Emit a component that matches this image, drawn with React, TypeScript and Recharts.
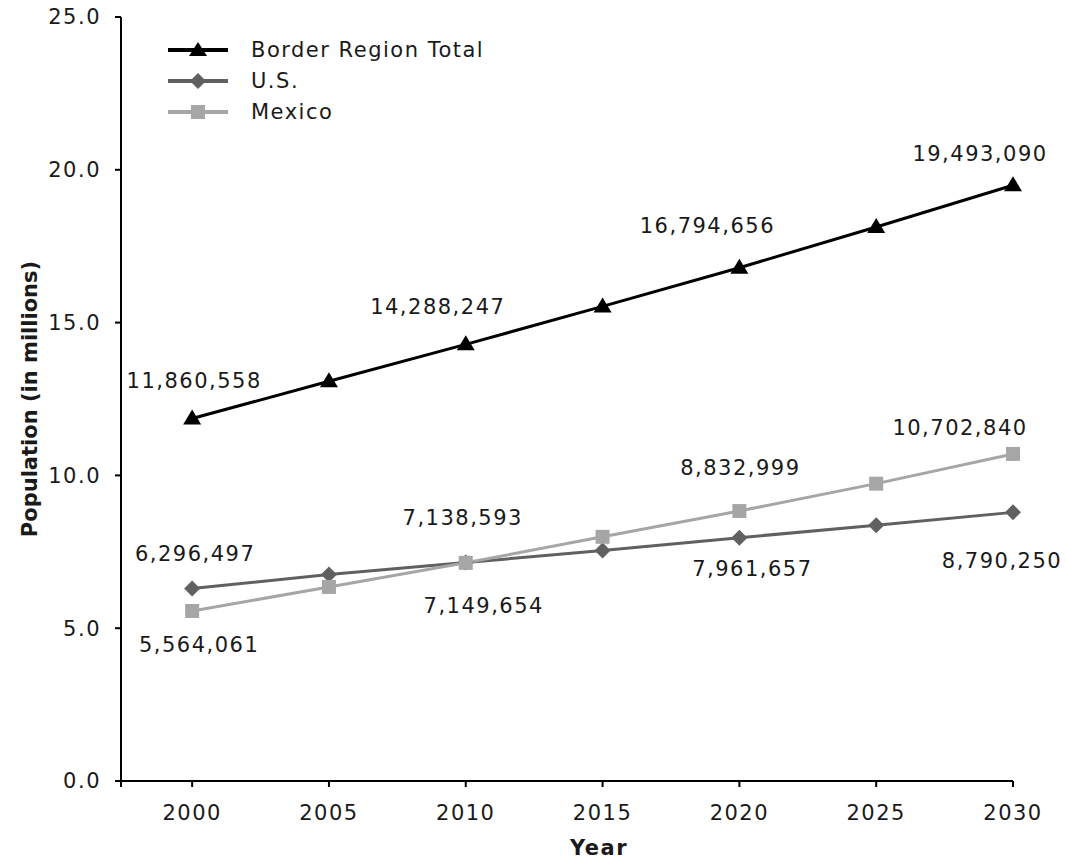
import { LineChart, Line, XAxis, YAxis, Legend, LabelList } from 'recharts';

const years = [2000, 2005, 2010, 2015, 2020, 2025, 2030];
// population in millions
const borderTotal = [11.860558, 13.08, 14.288247, 15.53, 16.794656, 18.13, 19.49309];
const usPop = [6.296497, 6.76, 7.149654, 7.54, 7.961657, 8.37, 8.79025];
const mexicoPop = [5.564061, 6.35, 7.138593, 7.99, 8.832999, 9.73, 10.70284];
const yTicks = [0, 5, 10, 15, 20, 25];
const xStart = 1997.4;

const data = years.map((year, i) => ({
  year,
  border: borderTotal[i],
  us: usPop[i],
  mexico: mexicoPop[i],
}));

const FONT = '"DejaVu Sans", Verdana, sans-serif';
const TEXT = '#1a1a1a';

// label offsets from the point, only labelled every other year
const borderOffsets = [[2, -38], null, [-28, -37], null, [-32, -42], null, [-33, -31]];
const usOffsets = [[3, -35], null, [18, 43], null, [13, 31], null, [-11, 49]];
const mexicoOffsets = [[7, 34], null, [-3, -45], null, [1, -43], null, [-53, -26]];

const fmt = (v: number) => Math.round(v * 1e6).toLocaleString('en-US');

const makeLabel = (offsets: (number[] | null)[]) => (props: any) => {
  const { x, y, value, index } = props;
  const off = offsets[index];
  if (!off) return null;
  return (
    <text
      x={x + off[0]}
      y={y + off[1]}
      textAnchor="middle"
      dominantBaseline="central"
      fill={TEXT}
      fontSize={21}
      fontFamily={FONT}
      letterSpacing={1.5}
    >
      {fmt(value)}
    </text>
  );
};

const triangle = (props: any) => {
  const { cx, cy, index } = props;
  return <polygon key={index} points={`${cx},${cy - 9} ${cx + 9},${cy + 6} ${cx - 9},${cy + 6}`} fill="#000" />;
};
const diamond = (props: any) => {
  const { cx, cy, index } = props;
  return <polygon key={index} points={`${cx},${cy - 8} ${cx + 8},${cy} ${cx},${cy + 8} ${cx - 8},${cy}`} fill="#606060" />;
};
const square = (props: any) => {
  const { cx, cy, index } = props;
  return <rect key={index} x={cx - 7} y={cy - 7} width={14} height={14} fill="#a6a6a6" />;
};

const legendItems = [
  { name: 'Border Region Total', color: '#000', shape: 'triangle' },
  { name: 'U.S.', color: '#606060', shape: 'diamond' },
  { name: 'Mexico', color: '#a6a6a6', shape: 'square' },
];

const renderLegend = () => (
  <div style={{ fontFamily: FONT, fontSize: 21, color: TEXT, letterSpacing: 1.5 }}>
    {legendItems.map((it) => (
      <div key={it.name} style={{ display: 'flex', alignItems: 'center', height: 31 }}>
        <svg width={62} height={20} style={{ marginRight: 22 }}>
          <line x1={1} y1={10} x2={61} y2={10} stroke={it.color} strokeWidth={4} />
          {it.shape === 'triangle' && <polygon points="31,2 40,16 22,16" fill={it.color} />}
          {it.shape === 'diamond' && <polygon points="31,2 39,10 31,18 23,10" fill={it.color} />}
          {it.shape === 'square' && <rect x={24} y={3} width={14} height={14} fill={it.color} />}
        </svg>
        <span>{it.name}</span>
      </div>
    ))}
  </div>
);

const tickStyle = { fill: TEXT, fontSize: 21, fontFamily: FONT, letterSpacing: 1.5 };

export default function App() {
  return (
    <div style={{ width: 1066, height: 859, background: '#fff', position: 'relative' }}>
      <style>{'body{margin:0}'}</style>
      <LineChart width={1066} height={859} data={data} margin={{ top: 17, right: 53, bottom: 0, left: 0 }}>
        <XAxis
          dataKey="year"
          type="number"
          domain={[xStart, 2030]}
          ticks={[xStart, ...years]}
          tickFormatter={(v) => (years.includes(v) ? String(v) : '')}
          height={78}
          stroke="#000"
          strokeWidth={2}
          tickLine={{ stroke: '#000', strokeWidth: 2 }}
          tickSize={6}
          tickMargin={18}
          tick={tickStyle}
          label={() => (
            <text x={599} y={848} textAnchor="middle" dominantBaseline="central" fontWeight="bold" fontSize={21} fontFamily={FONT} fill={TEXT} letterSpacing={1.5}>
              Year
            </text>
          )}
        />
        <YAxis
          type="number"
          domain={[0, 25]}
          ticks={yTicks}
          tickFormatter={(v) => v.toFixed(1)}
          width={121}
          stroke="#000"
          strokeWidth={2}
          tickLine={{ stroke: '#000', strokeWidth: 2 }}
          tickSize={6}
          tickMargin={14}
          tick={tickStyle}
          label={() => (
            <text
              x={30}
              y={399}
              transform="rotate(-90, 30, 399)"
              textAnchor="middle"
              dominantBaseline="central"
              fontWeight="bold"
              fontSize={21}
              fontFamily={FONT}
              fill={TEXT}
            >
              Population (in millions)
            </text>
          )}
        />
        <Legend
          layout="vertical"
          align="center"
          verticalAlign="middle"
          content={renderLegend}
          wrapperStyle={{ top: 34, left: 167, width: 'auto' }}
        />
        <Line dataKey="border" stroke="#000" strokeWidth={3} dot={triangle} isAnimationActive={false}>
          <LabelList dataKey="border" content={makeLabel(borderOffsets)} />
        </Line>
        <Line dataKey="us" stroke="#606060" strokeWidth={3} dot={diamond} isAnimationActive={false}>
          <LabelList dataKey="us" content={makeLabel(usOffsets)} />
        </Line>
        <Line dataKey="mexico" stroke="#a6a6a6" strokeWidth={3} dot={square} isAnimationActive={false}>
          <LabelList dataKey="mexico" content={makeLabel(mexicoOffsets)} />
        </Line>
      </LineChart>
    </div>
  );
}
